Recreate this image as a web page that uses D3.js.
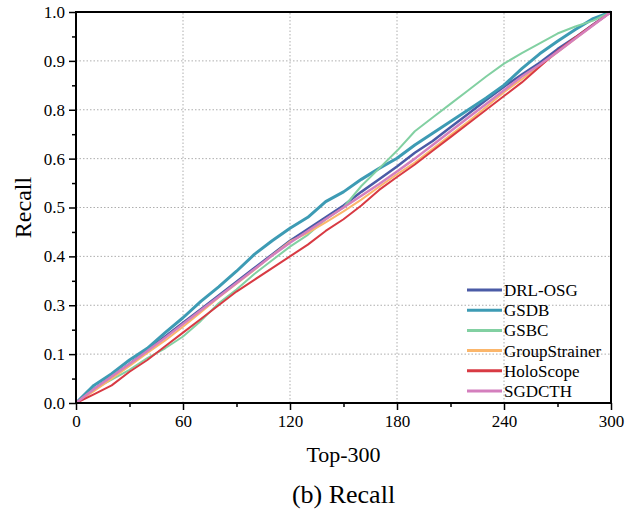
<!DOCTYPE html>
<html>
<head>
<meta charset="utf-8">
<script src="https://cdn.jsdelivr.net/npm/d3@7"></script>
<style>
  body { margin: 0; background: #fff; }
  svg text { font-family: "Liberation Serif", "Times New Roman", serif; fill: #000; }
</style>
</head>
<body>
<div id="chart"></div>
<script>
// x positions (Top-k) where the curves were read
var topK = [0, 10, 20, 30, 40, 50, 60, 70, 80, 90, 100, 110, 120, 130, 140, 150,
            160, 170, 180, 190, 200, 210, 220, 230, 240, 250, 260, 270, 280, 290, 300];

// recall values per method
var drlOsg = [0, 0.035, 0.068, 0.1, 0.135, 0.17, 0.205, 0.24, 0.275, 0.31, 0.345, 0.38, 0.415, 0.445, 0.475,
              0.505, 0.54, 0.572, 0.605, 0.64, 0.67, 0.705, 0.74, 0.775, 0.809, 0.84, 0.87, 0.905, 0.935, 0.968, 1.0];
var gsdb = [0, 0.045, 0.075, 0.11, 0.14, 0.18, 0.218, 0.26, 0.297, 0.337, 0.38, 0.415, 0.447, 0.475, 0.515,
            0.54, 0.572, 0.6, 0.626, 0.66, 0.69, 0.72, 0.75, 0.78, 0.813, 0.855, 0.893, 0.925, 0.955, 0.983, 1.0];
var gsbc = [0, 0.035, 0.06, 0.085, 0.115, 0.14, 0.17, 0.21, 0.255, 0.29, 0.33, 0.365, 0.4, 0.43, 0.47,
            0.5, 0.555, 0.6, 0.645, 0.695, 0.73, 0.765, 0.8, 0.835, 0.868, 0.895, 0.92, 0.945, 0.963, 0.978, 1.0];
var groupStrainer = [0, 0.03, 0.062, 0.095, 0.128, 0.16, 0.195, 0.232, 0.27, 0.305, 0.34, 0.378, 0.413, 0.435, 0.462,
                     0.49, 0.52, 0.553, 0.585, 0.615, 0.65, 0.685, 0.72, 0.757, 0.795, 0.828, 0.862, 0.897, 0.932, 0.966, 1.0];
var holoScope = [0, 0.022, 0.045, 0.08, 0.11, 0.145, 0.18, 0.215, 0.25, 0.285, 0.315, 0.345, 0.375, 0.405, 0.44,
                 0.47, 0.505, 0.545, 0.578, 0.61, 0.645, 0.68, 0.715, 0.75, 0.785, 0.82, 0.86, 0.9, 0.935, 0.968, 1.0];
var sgdcth = [0, 0.035, 0.068, 0.1, 0.133, 0.167, 0.202, 0.237, 0.272, 0.307, 0.342, 0.377, 0.41, 0.44, 0.47,
              0.5, 0.53, 0.56, 0.592, 0.625, 0.66, 0.695, 0.73, 0.765, 0.8, 0.835, 0.865, 0.898, 0.932, 0.966, 1.0];

var seriesNames = ["DRL-OSG", "GSDB", "GSBC", "GroupStrainer", "HoloScope", "SGDCTH"];
var seriesColors = ["#4a5ba6", "#3d9bb4", "#82d0a2", "#fbb66b", "#d83a43", "#d47fbd"];
var seriesWidths = [2.5, 3, 2, 2, 2, 2.5];
var seriesValues = [drlOsg, gsdb, gsbc, groupStrainer, holoScope, sgdcth];

// ticks
var xTicks = [0, 60, 120, 180, 240, 300];
var xMinorTicks = [30, 90, 150, 210, 270];
var yTicks = [0, 0.125, 0.25, 0.375, 0.5, 0.625, 0.75, 0.875, 1.0];
var yTickLabels = ["0.0", "0.1", "0.3", "0.4", "0.5", "0.6", "0.8", "0.9", "1.0"];
var yMinorTicks = [0.0625, 0.1875, 0.3125, 0.4375, 0.5625, 0.6875, 0.8125, 0.9375];

var width = 630, height = 511;
var margin = { top: 12, right: 19, bottom: 108, left: 76 };

var svg = d3.select("#chart").append("svg")
    .attr("width", width)
    .attr("height", height);

var x = d3.scaleLinear().domain([0, 300]).range([margin.left, width - margin.right]);
var y = d3.scaleLinear().domain([0, 1]).range([height - margin.bottom, margin.top]);

// grid lines
svg.append("g").selectAll("line").data(xTicks.slice(1, -1)).enter()
    .append("line")
    .attr("x1", d => x(d)).attr("x2", d => x(d))
    .attr("y1", y(0)).attr("y2", y(1))
    .attr("stroke", "#999").attr("stroke-width", 0.8)
    .attr("stroke-dasharray", "1.5,2");

svg.append("g").selectAll("line").data(yTicks.slice(1, -1)).enter()
    .append("line")
    .attr("x1", x(0)).attr("x2", x(300))
    .attr("y1", d => y(d)).attr("y2", d => y(d))
    .attr("stroke", "#999").attr("stroke-width", 0.8)
    .attr("stroke-dasharray", "1.5,2");

// lines
var line = d3.line()
    .x((d, i) => x(topK[i]))
    .y(d => y(d));

seriesValues.forEach(function(vals, i) {
    svg.append("path")
        .datum(vals)
        .attr("fill", "none")
        .attr("stroke", seriesColors[i])
        .attr("stroke-width", seriesWidths[i])
        .attr("stroke-linejoin", "round")
        .attr("d", line);
});

// axes
var xAxis = d3.axisBottom(x).tickValues(xTicks).tickSize(7).tickPadding(5).tickFormat(d3.format("d"));
var xAxisMinor = d3.axisBottom(x).tickValues(xMinorTicks).tickSize(4).tickFormat("");
var yAxis = d3.axisLeft(y).tickValues(yTicks).tickSize(7).tickPadding(4)
    .tickFormat((d, i) => yTickLabels[i]);
var yAxisMinor = d3.axisLeft(y).tickValues(yMinorTicks).tickSize(4).tickFormat("");

function styleAxis(g) {
    g.select(".domain").remove();
    g.selectAll(".tick line").attr("stroke", "#000").attr("stroke-width", 1.5);
    g.selectAll(".tick text").style("font-family", "'Liberation Serif', serif").style("font-size", "17px").attr("fill", "#000");
}

svg.append("g").attr("transform", "translate(0," + y(0) + ")").call(xAxis).call(styleAxis);
svg.append("g").attr("transform", "translate(0," + y(0) + ")").call(xAxisMinor).call(styleAxis);
svg.append("g").attr("transform", "translate(" + x(0) + ",0)").call(yAxis).call(styleAxis);
svg.append("g").attr("transform", "translate(" + x(0) + ",0)").call(yAxisMinor).call(styleAxis);

// frame
svg.append("rect")
    .attr("x", x(0)).attr("y", y(1))
    .attr("width", x(300) - x(0)).attr("height", y(0) - y(1))
    .attr("fill", "none").attr("stroke", "#000").attr("stroke-width", 2);

// axis labels
svg.append("text")
    .attr("transform", "translate(31," + ((y(0) + y(1)) / 2) + ") rotate(-90)")
    .attr("text-anchor", "middle")
    .style("font-size", "24px")
    .text("Recall");

svg.append("text")
    .attr("x", (x(0) + x(300)) / 2).attr("y", 462)
    .attr("text-anchor", "middle")
    .style("font-size", "22px")
    .text("Top-300");

svg.append("text")
    .attr("x", (x(0) + x(300)) / 2).attr("y", 503)
    .attr("text-anchor", "middle")
    .style("font-size", "26px")
    .text("(b) Recall");

// legend
var legend = svg.append("g");
seriesNames.forEach(function(name, i) {
    var ly = 290 + i * 20.2;
    legend.append("line")
        .attr("x1", 467).attr("x2", 502)
        .attr("y1", ly).attr("y2", ly)
        .attr("stroke", seriesColors[i]).attr("stroke-width", 3);
    legend.append("text")
        .attr("x", 504).attr("y", ly + 6)
        .style("font-size", "17px")
        .text(name);
});
</script>
</body>
</html>
